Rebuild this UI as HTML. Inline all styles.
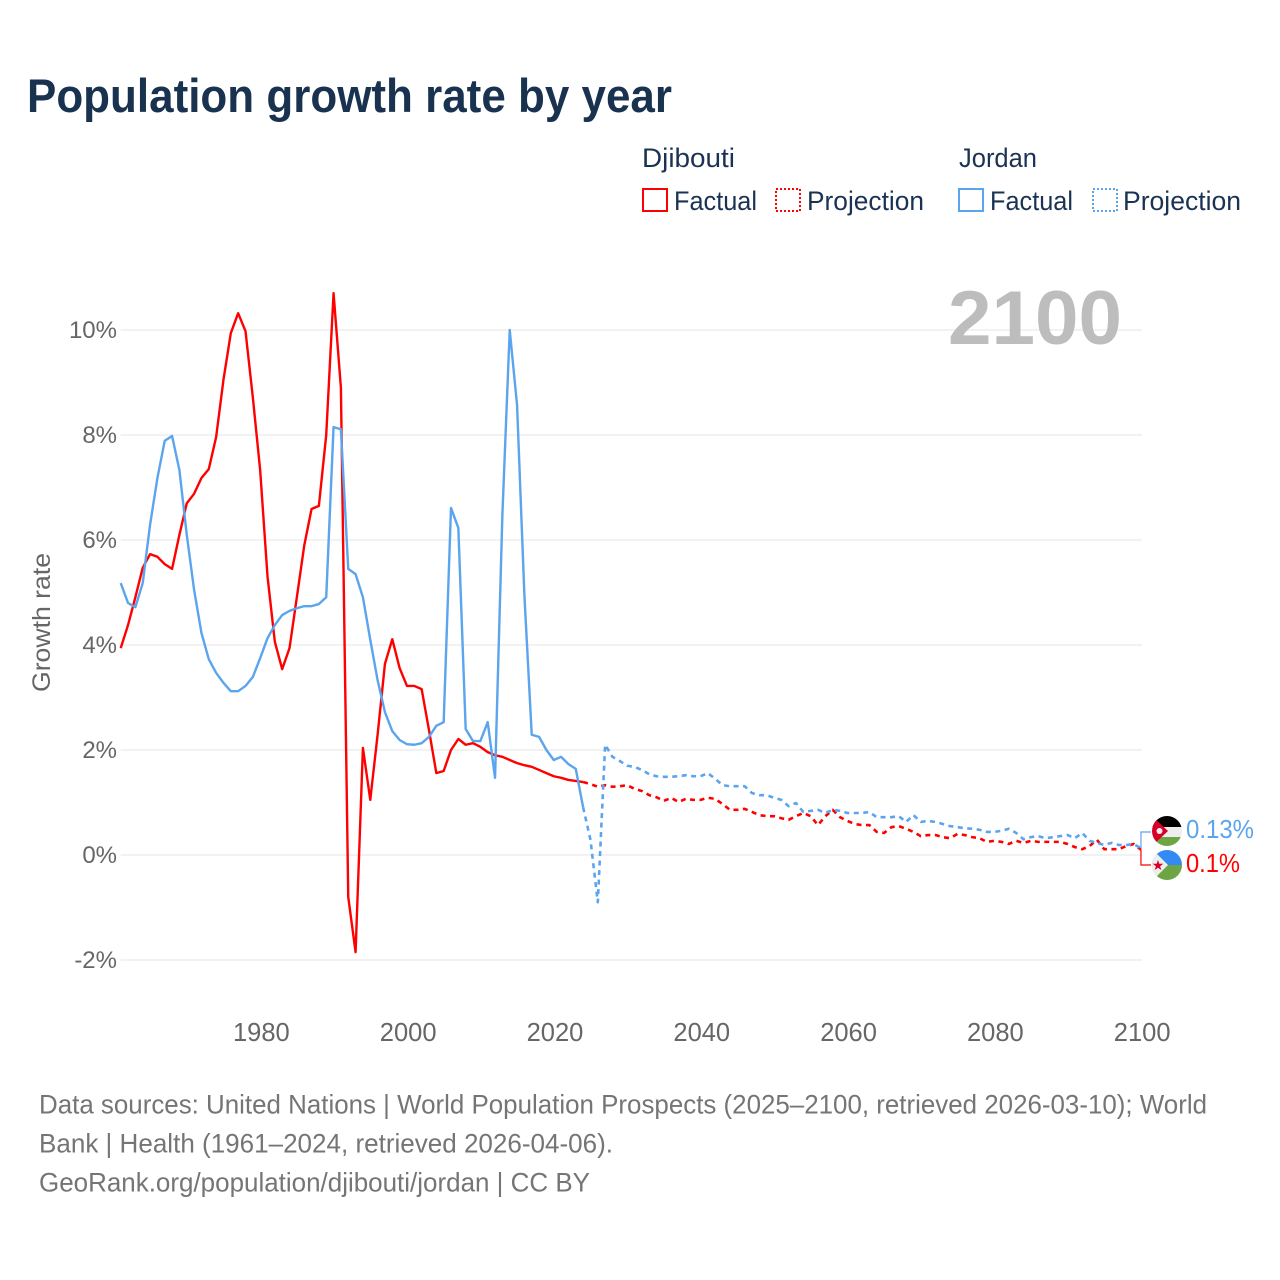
<!DOCTYPE html>
<html>
<head>
<meta charset="utf-8">
<title>Population growth rate by year</title>
<style>
html,body{margin:0;padding:0;background:#fff;}
svg{display:block;}
text{font-family:"Liberation Sans",sans-serif;}
</style>
</head>
<body>
<svg id="chart" xmlns="http://www.w3.org/2000/svg" width="1280" height="1280" viewBox="0 0 1280 1280">
  <defs>
    <clipPath id="jo-clip"><circle cx="1167" cy="831" r="15"/></clipPath>
    <clipPath id="dj-clip"><circle cx="1167" cy="865" r="15"/></clipPath>
  </defs>
  <rect x="0" y="0" width="1280" height="1280" fill="#fff"/>

  <text x="27" y="112" font-size="47" font-weight="700" fill="#19324f" textLength="645" lengthAdjust="spacingAndGlyphs">Population growth rate by year</text>

  <g font-size="26.5" fill="#1a3353">
    <text x="642" y="167" textLength="93" lengthAdjust="spacingAndGlyphs">Djibouti</text>
    <text x="959" y="167" textLength="78" lengthAdjust="spacingAndGlyphs">Jordan</text>
    <rect x="643" y="189" width="24" height="22" fill="none" stroke="#ff0000" stroke-width="2"/>
    <text x="674" y="210" textLength="83" lengthAdjust="spacingAndGlyphs">Factual</text>
    <rect x="776" y="189" width="24" height="22" fill="none" stroke="#ff0000" stroke-width="2" stroke-dasharray="2 2"/>
    <text x="807" y="210" textLength="117" lengthAdjust="spacingAndGlyphs">Projection</text>
    <rect x="959" y="189" width="24" height="22" fill="none" stroke="#5ba4ee" stroke-width="2"/>
    <text x="990" y="210" textLength="83" lengthAdjust="spacingAndGlyphs">Factual</text>
    <rect x="1093" y="189" width="24" height="22" fill="none" stroke="#5ba4ee" stroke-width="2" stroke-dasharray="2 2"/>
    <text x="1123" y="210" textLength="118" lengthAdjust="spacingAndGlyphs">Projection</text>
  </g>

  <g id="grid"></g>
  <text x="1122" y="344" text-anchor="end" font-size="76" font-weight="700" fill="#bdbdbd" textLength="174" lengthAdjust="spacingAndGlyphs">2100</text>
  <g id="y-ticks"></g>
  <g id="x-ticks"></g>
  <text transform="translate(50,622.5) rotate(-90)" text-anchor="middle" font-size="25" fill="#666" textLength="139" lengthAdjust="spacingAndGlyphs">Growth rate</text>

  <g id="series"></g>

  <g id="end-markers"></g>

  <g clip-path="url(#jo-clip)">
    <rect x="1152" y="816" width="30" height="11" fill="#000"/>
    <rect x="1152" y="827" width="30" height="10" fill="#eeeeee"/>
    <rect x="1152" y="837" width="30" height="9" fill="#6da544"/>
    <polygon points="1150,814 1168,831 1150,848" fill="#d80027"/>
    <circle cx="1159.5" cy="831" r="3" fill="#eee"/>
  </g>
  <g clip-path="url(#dj-clip)">
    <rect x="1152" y="850" width="30" height="15" fill="#338af3"/>
    <rect x="1152" y="865" width="30" height="15" fill="#6da544"/>
    <polygon points="1150,847 1168,865 1150,883" fill="#eeeeee"/>
    <polygon points="1158,860 1159.3,863.8 1163.3,863.8 1160.1,866.2 1161.3,870 1158,867.7 1154.7,870 1155.9,866.2 1152.7,863.8 1156.7,863.8" fill="#d80027"/>
  </g>
  <text id="jordan-end-label" x="1186" y="838" font-size="25.5" fill="#5ba4ee" textLength="68" lengthAdjust="spacingAndGlyphs">0.13%</text>
  <text id="djibouti-end-label" x="1186" y="872" font-size="25.5" fill="#ff0000" textLength="54" lengthAdjust="spacingAndGlyphs">0.1%</text>

  <g font-size="26.5" fill="#757575">
    <text x="39" y="1113.5" textLength="1168" lengthAdjust="spacingAndGlyphs">Data sources: United Nations | World Population Prospects (2025–2100, retrieved 2026-03-10); World</text>
    <text x="39" y="1152.5" textLength="574" lengthAdjust="spacingAndGlyphs">Bank | Health (1961–2024, retrieved 2026-04-06).</text>
    <text x="39" y="1191.5" textLength="551" lengthAdjust="spacingAndGlyphs">GeoRank.org/population/djibouti/jordan | CC BY</text>
  </g>
</svg>
<script>
var factualStartYear = 1961;
var projectionStartYear = 2024;
var yTickValues = [-2, 0, 2, 4, 6, 8, 10];
var yTickLabels = ["-2%", "0%", "2%", "4%", "6%", "8%", "10%"];
var xTickValues = [1980, 2000, 2020, 2040, 2060, 2080, 2100];
var xTickLabels = ["1980", "2000", "2020", "2040", "2060", "2080", "2100"];

var djiboutiFactual = [
  3.94,4.38,4.91,5.47,5.73,5.68,5.54,5.45,6.10,6.70,
  6.88,7.18,7.35,7.96,9.05,9.94,10.32,9.98,8.72,7.33,
  5.31,4.06,3.54,3.94,4.91,5.89,6.59,6.65,8.00,10.70,
  8.90,-0.80,-1.85,2.04,1.05,2.29,3.64,4.11,3.56,3.22,
  3.22,3.16,2.38,1.56,1.60,2.00,2.21,2.10,2.13,2.06,
  1.96,1.90,1.87,1.81,1.75,1.71,1.68,1.62,1.56,1.50,
  1.47,1.43,1.41,1.39
];
var jordanFactual = [
  5.18,4.80,4.72,5.18,6.29,7.18,7.89,7.98,7.33,6.10,
  5.05,4.23,3.73,3.47,3.28,3.12,3.12,3.22,3.39,3.75,
  4.13,4.38,4.57,4.65,4.70,4.74,4.74,4.78,4.91,8.15,
  8.11,5.45,5.35,4.91,4.10,3.33,2.72,2.36,2.19,2.11,
  2.10,2.13,2.25,2.46,2.53,6.61,6.23,2.40,2.17,2.17,
  2.53,1.47,6.48,10.00,8.57,4.95,2.29,2.25,2.00,1.81,
  1.87,1.73,1.64,0.91
];
var djiboutiProjection = [
  1.39,1.35,1.30,1.33,1.30,1.31,1.33,
  1.26,1.22,1.14,1.10,1.03,1.09,1.01,1.07,1.05,1.05,
  1.09,1.07,0.97,0.86,0.86,0.88,0.82,0.76,0.74,0.74,
  0.70,0.67,0.74,0.80,0.74,0.57,0.74,0.86,0.72,0.65,
  0.59,0.57,0.57,0.44,0.42,0.53,0.55,0.50,0.44,0.36,
  0.38,0.38,0.34,0.32,0.40,0.38,0.34,0.32,0.25,0.27,
  0.25,0.21,0.27,0.23,0.27,0.25,0.25,0.25,0.25,0.21,
  0.15,0.11,0.17,0.29,0.11,0.11,0.11,0.17,0.21,0.10
];
var jordanProjection = [
  0.91,0.29,-0.90,2.10,1.87,1.79,1.70,
  1.68,1.62,1.54,1.50,1.49,1.49,1.50,1.52,1.50,1.50,
  1.56,1.45,1.33,1.31,1.31,1.31,1.18,1.14,1.14,1.09,
  1.05,0.93,0.99,0.82,0.84,0.86,0.80,0.86,0.84,0.80,
  0.80,0.80,0.82,0.72,0.72,0.72,0.74,0.63,0.76,0.63,
  0.65,0.63,0.59,0.55,0.53,0.51,0.50,0.48,0.44,0.44,
  0.46,0.50,0.42,0.30,0.34,0.36,0.32,0.34,0.36,0.38,
  0.32,0.42,0.27,0.23,0.19,0.23,0.19,0.19,0.21,0.13
];

var SVG_NS = 'http://www.w3.org/2000/svg';
function xScale(year) { return 120.7 + (year - 1961) * 7.34; }
function yScale(value) { return 855 - value * 52.5; }
function linePath(values, startYear) {
  var d = '';
  for (var i = 0; i < values.length; i++) {
    d += (i ? 'L' : 'M') + xScale(startYear + i).toFixed(2) + ' ' + yScale(values[i]).toFixed(2);
  }
  return d;
}
function drawLine(values, startYear, color, dash, name) {
  var p = document.createElementNS(SVG_NS, 'path');
  p.setAttribute('d', linePath(values, startYear));
  p.setAttribute('fill', 'none');
  p.setAttribute('stroke', color);
  p.setAttribute('stroke-width', dash ? '2.6' : '2.4');
  p.setAttribute('stroke-linejoin', 'round');
  if (dash) { p.setAttribute('stroke-dasharray', dash); }
  
  
  document.getElementById('series').appendChild(p);
}

yTickValues.forEach(function (v, i) {
  var line = document.createElementNS(SVG_NS, 'line');
  line.setAttribute('x1', 120.7);
  line.setAttribute('x2', 1142);
  line.setAttribute('y1', yScale(v));
  line.setAttribute('y2', yScale(v));
  line.setAttribute('stroke', '#eeeeee');
  line.setAttribute('stroke-width', '1.6');
  
  
  document.getElementById('grid').appendChild(line);

  var t = document.createElementNS(SVG_NS, 'text');
  t.setAttribute('x', 117);
  t.setAttribute('y', yScale(v) + 8);
  t.setAttribute('text-anchor', 'end');
  t.setAttribute('font-size', '24');
  t.setAttribute('fill', '#666');
  t.textContent = yTickLabels[i];
  
  
  document.getElementById('y-ticks').appendChild(t);
});

xTickValues.forEach(function (v, i) {
  var t = document.createElementNS(SVG_NS, 'text');
  t.setAttribute('x', xScale(v) + 1.2);
  t.setAttribute('y', 1041);
  t.setAttribute('text-anchor', 'middle');
  t.setAttribute('font-size', '25.5');
  t.setAttribute('fill', '#666');
  t.textContent = xTickLabels[i];
  
  
  document.getElementById('x-ticks').appendChild(t);
});

drawLine(djiboutiProjection, projectionStartYear, '#ff0000', '5 4.5', 'line-djibouti-projection');
drawLine(jordanProjection, projectionStartYear, '#5ba4ee', '5 4.5', 'line-jordan-projection');
drawLine(djiboutiFactual, factualStartYear, '#ff0000', null, 'line-djibouti-factual');
drawLine(jordanFactual, factualStartYear, '#5ba4ee', null, 'line-jordan-factual');

function drawConnector(lastValue, flagY, color, name) {
  var x = xScale(2100);
  var p = document.createElementNS(SVG_NS, 'path');
  p.setAttribute('d', 'M' + x + ' ' + yScale(lastValue) + 'L' + x + ' ' + flagY + 'L1151 ' + flagY);
  p.setAttribute('fill', 'none');
  p.setAttribute('stroke', color);
  p.setAttribute('stroke-width', '1.2');
  
  
  document.getElementById('end-markers').appendChild(p);
}
drawConnector(jordanProjection[jordanProjection.length - 1], 832, '#5ba4ee', 'connector-jordan');
drawConnector(djiboutiProjection[djiboutiProjection.length - 1], 865, '#ff0000', 'connector-djibouti');
</script>
</body>
</html>
